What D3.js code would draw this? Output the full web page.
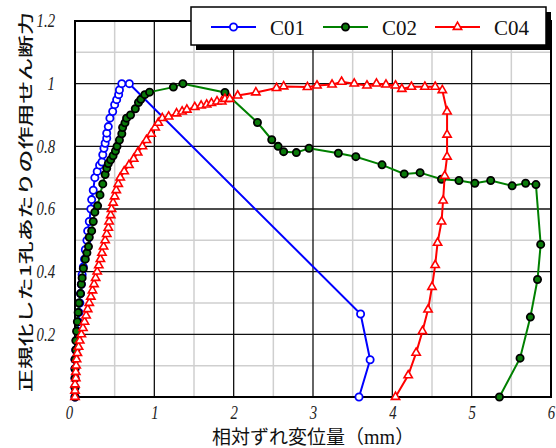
<!DOCTYPE html>
<html>
<head>
<meta charset="utf-8">
<script src="https://cdn.jsdelivr.net/npm/d3@7"></script>
<style>
    body { margin: 0; background: #fff; }
    svg { display: block; }
</style>
</head>
<body>
<div id="chart"><svg width="556" height="448"></svg></div>
<script>
// Data: [slip (mm), normalised shear force]
const c01 = [[0,0],[0,0.03],[0,0.06],[0,0.09],[0,0.12],[0.01,0.15],[0.02,0.18],[0.03,0.21],[0.04,0.24],[0.05,0.27],
    [0.06,0.30],[0.07,0.33],[0.08,0.36],[0.09,0.39],[0.105,0.415],[0.12,0.44],[0.13,0.47],[0.15,0.50],[0.16,0.53],
    [0.18,0.56],[0.20,0.60],[0.21,0.63],[0.23,0.66],[0.25,0.70],[0.28,0.72],[0.31,0.74],[0.34,0.75],[0.35,0.773],
    [0.365,0.794],[0.38,0.81],[0.40,0.826],[0.40,0.842],[0.42,0.863],[0.44,0.89],[0.475,0.911],[0.50,0.933],
    [0.525,0.949],[0.55,0.965],[0.56,0.98],[0.59,1.0],[0.685,1.0],[3.60,0.265],[3.72,0.119],[3.58,0]];

const c02 = [[0,0],[0,0.03],[0,0.06],[0,0.09],[0,0.12],[0.01,0.15],[0.01,0.18],[0.02,0.21],[0.03,0.24],[0.04,0.27],
    [0.05,0.30],[0.07,0.33],[0.08,0.36],[0.09,0.38],[0.105,0.41],[0.13,0.44],[0.15,0.46],[0.17,0.48],[0.18,0.51],
    [0.21,0.53],[0.23,0.56],[0.25,0.59],[0.285,0.61],[0.315,0.645],[0.35,0.68],[0.38,0.71],[0.40,0.73],[0.42,0.745],
    [0.45,0.757],[0.48,0.77],[0.51,0.785],[0.53,0.80],[0.56,0.82],[0.59,0.84],[0.60,0.86],[0.63,0.875],[0.65,0.89],
    [0.70,0.90],[0.76,0.92],[0.80,0.94],[0.83,0.95],[0.88,0.965],[0.94,0.973],[1.24,0.989],[1.36,1.0],[1.89,0.972],
    [2.30,0.876],[2.48,0.821],[2.56,0.80],[2.63,0.783],[2.79,0.78],[2.95,0.794],[3.32,0.778],[3.54,0.767],
    [3.87,0.741],[4.15,0.712],[4.35,0.716],[4.62,0.695],[4.84,0.691],[5.04,0.682],[5.24,0.691],[5.51,0.674],
    [5.68,0.682],[5.81,0.678],[5.87,0.487],[5.83,0.375],[5.74,0.255],[5.61,0.124],[5.35,0]];

const c04 = [[0,0],[0,0.02],[0,0.04],[0.01,0.06],[0.01,0.08],[0.015,0.10],[0.02,0.12],[0.03,0.14],[0.045,0.16],
    [0.06,0.18],[0.08,0.20],[0.10,0.22],[0.12,0.24],[0.14,0.26],[0.16,0.28],[0.18,0.30],[0.20,0.32],[0.22,0.34],
    [0.24,0.36],[0.26,0.38],[0.28,0.40],[0.30,0.42],[0.32,0.44],[0.34,0.46],[0.36,0.48],[0.38,0.50],[0.40,0.52],
    [0.42,0.54],[0.43,0.56],[0.45,0.58],[0.46,0.60],[0.48,0.62],[0.50,0.64],[0.52,0.66],[0.545,0.68],[0.57,0.70],
    [0.62,0.72],[0.68,0.74],[0.74,0.76],[0.79,0.78],[0.85,0.80],[0.90,0.82],[0.96,0.84],[1.01,0.86],[1.05,0.875],
    [1.10,0.89],[1.18,0.895],[1.28,0.905],[1.35,0.911],[1.41,0.917],[1.51,0.925],[1.59,0.93],[1.66,0.933],
    [1.72,0.938],[1.79,0.943],[1.85,0.943],[1.89,0.951],[1.95,0.951],[2.05,0.962],[2.28,0.972],[2.54,0.986],
    [2.63,0.991],[2.93,0.989],[3.05,0.994],[3.24,0.997],[3.36,1.006],[3.52,1.0],[3.68,0.994],[3.80,1.0],
    [3.92,0.997],[4.04,0.994],[4.12,0.983],[4.24,0.99],[4.41,0.99],[4.54,0.99],[4.63,0.979],[4.69,0.911],
    [4.69,0.837],[4.69,0.767],[4.66,0.706],[4.64,0.627],[4.62,0.56],[4.57,0.492],[4.54,0.421],[4.50,0.351],
    [4.45,0.279],[4.38,0.21],[4.30,0.141],[4.20,0.069],[4.04,0]];

const seriesNames = ["C01", "C02", "C04"];
const xTicks = [0, 1, 2, 3, 4, 5, 6];
const yTicks = [0.2, 0.4, 0.6, 0.8, 1, 1.2];
const xTitle = "相対ずれ変位量";
const yTitle = "正規化した1孔あたりの作用せん断力";

var svg = d3.select("#chart svg");

var plotLeft = 75, plotRight = 551, plotTop = 21, plotBottom = 397;

var x = d3.scaleLinear().domain([0, 6]).range([plotLeft, plotRight]);
var y = d3.scaleLinear().domain([0, 1.2]).range([plotBottom, plotTop]);

var serif = "'Liberation Serif', 'Times New Roman', serif";
var cjk = "'Noto Sans CJK JP', sans-serif";

// Minor grid (every 0.5 mm / 0.1)
var grid = svg.append("g");
grid.selectAll(".vminor")
    .data(d3.range(0.5, 6, 1))
    .enter().append("line")
        .attr("x1", d => x(d)).attr("x2", d => x(d))
        .attr("y1", plotTop).attr("y2", plotBottom)
        .attr("stroke", "#cfcfcf").attr("stroke-width", 1.5);
grid.selectAll(".hminor")
    .data(d3.range(0.1, 1.2, 0.2))
    .enter().append("line")
        .attr("x1", plotLeft).attr("x2", plotRight)
        .attr("y1", d => y(d)).attr("y2", d => y(d))
        .attr("stroke", "#cfcfcf").attr("stroke-width", 1.5);

// Major grid
grid.selectAll(".vmajor")
    .data(xTicks.slice(1, -1))
    .enter().append("line")
        .attr("x1", d => x(d)).attr("x2", d => x(d))
        .attr("y1", plotTop).attr("y2", plotBottom)
        .attr("stroke", "#111").attr("stroke-width", 1.3);
grid.selectAll(".hmajor")
    .data(yTicks.slice(0, -1))
    .enter().append("line")
        .attr("x1", plotLeft).attr("x2", plotRight)
        .attr("y1", d => y(d)).attr("y2", d => y(d))
        .attr("stroke", "#111").attr("stroke-width", 1.3);

// Frame
svg.append("rect")
    .attr("x", plotLeft).attr("y", plotTop)
    .attr("width", plotRight - plotLeft).attr("height", plotBottom - plotTop)
    .attr("fill", "none").attr("stroke", "#000").attr("stroke-width", 2);

// Axes (labels only)
var xAxis = svg.append("g")
    .attr("transform", "translate(0," + plotBottom + ")")
    .call(d3.axisBottom(x).tickValues(xTicks).tickFormat(d3.format("d")).tickSize(0).tickPadding(9));
var yAxis = svg.append("g")
    .attr("transform", "translate(" + plotLeft + ",0)")
    .call(d3.axisLeft(y).tickValues(yTicks).tickFormat(d => String(d)).tickSize(0).tickPadding(20));
[xAxis, yAxis].forEach(function(g) {
    g.select(".domain").remove();
    g.selectAll("text")
        .attr("font-family", serif)
        .attr("font-style", "italic")
        .attr("font-size", 18)
        .attr("fill", "#222")
        .each(function() {
            // the source is a bit narrow horizontally
            var w = this.getComputedTextLength();
            d3.select(this).attr("textLength", w * 0.82).attr("lengthAdjust", "spacingAndGlyphs");
        });
});
xAxis.selectAll("text").filter(d => d === 0).attr("dx", -6);

// Axis titles
var xt = svg.append("text")
    .attr("x", 212).attr("y", 444)
    .attr("font-family", cjk).attr("font-size", 19).attr("fill", "#111");
xt.append("tspan").text(xTitle);
xt.append("tspan").text("（");
xt.append("tspan").attr("font-family", serif).attr("font-size", 20).text("mm");
xt.append("tspan").text("）");

// Y title: narrow glyphs stretched along the axis, as in the source
svg.append("text")
    .attr("transform", "translate(31,202)rotate(-90)")
    .attr("text-anchor", "middle")
    .attr("font-family", cjk).attr("font-size", 15).attr("font-weight", 500)
    .attr("textLength", 380).attr("lengthAdjust", "spacingAndGlyphs")
    .attr("fill", "#111")
    .text(yTitle);

// Series
var styles = [
    {data: c01, color: "#0000ff", fill: "#fff", mstroke: "#0000ff", shape: "circle"},
    {data: c02, color: "#008000", fill: "#0a7a0a", mstroke: "#000", shape: "circle"},
    {data: c04, color: "#ff0000", fill: "#fff", mstroke: "#ff0000", shape: "triangle"}
];

var line = d3.line().x(d => x(d[0])).y(d => y(d[1]));
var tri = d3.symbol().type(d3.symbolTriangle).size(30);

function drawMarker(g, s, px, py) {
    if (s.shape === "circle") {
        g.append("circle")
            .attr("cx", px).attr("cy", py).attr("r", 3.6)
            .attr("fill", s.fill).attr("stroke", s.mstroke).attr("stroke-width", 1.8);
    } else {
        g.append("path")
            .attr("d", tri())
            .attr("transform", "translate(" + px + "," + py + ")")
            .attr("fill", s.fill).attr("stroke", s.mstroke).attr("stroke-width", 1.6);
    }
}

styles.forEach(function(s) {
    var g = svg.append("g");
    g.append("path")
        .datum(s.data)
        .attr("d", line)
        .attr("fill", "none")
        .attr("stroke", s.color)
        .attr("stroke-width", 2);
    s.data.forEach(function(d) {
        drawMarker(g, s, x(d[0]), y(d[1]));
    });
});

// Legend with drop shadow
var lg = svg.append("g");
lg.append("rect")
    .attr("x", 196).attr("y", 12).attr("width", 355).attr("height", 38)
    .attr("fill", "#000");
lg.append("rect")
    .attr("x", 191).attr("y", 7).attr("width", 355).attr("height", 38)
    .attr("fill", "#fff").attr("stroke", "#000").attr("stroke-width", 1.5);

var legendX = [211, 323, 435];
styles.forEach(function(s, i) {
    var lx = legendX[i];
    lg.append("line")
        .attr("x1", lx).attr("x2", lx + 45)
        .attr("y1", 27).attr("y2", 27)
        .attr("stroke", s.color).attr("stroke-width", 2);
    drawMarker(lg, s, lx + 22.5, 27);
    lg.append("text")
        .attr("x", lx + 59).attr("y", 35)
        .attr("font-family", serif).attr("font-size", 21)
        .attr("fill", "#111")
        .text(seriesNames[i]);
});
</script>
</body>
</html>
